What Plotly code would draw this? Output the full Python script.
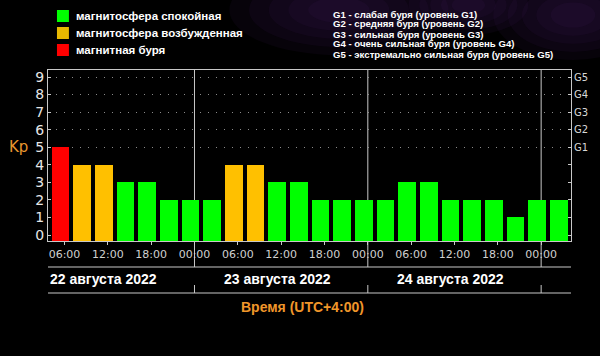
import plotly.graph_objects as go
import pandas as pd

# ---------------- data ----------------
KP = [5, 4, 4, 3, 3, 2, 2, 2,
      4, 4, 3, 3, 2, 2, 2, 2,
      3, 3, 2, 2, 2, 1, 2, 2]
START = "2022-08-22 06:00"
STEP = "3h"
DATES = ["2022-08-22", "2022-08-23", "2022-08-24"]
DAY_LABELS = ["22 августа 2022", "23 августа 2022", "24 августа 2022"]
LEGEND_LABELS = ["магнитосфера спокойная", "магнитосфера возбужденная", "магнитная буря"]
LEGEND_COLORS = ["#00ff00", "#e8b800", "#ff0000"]
BAR_COLORS = {"quiet": "#00ff00", "active": "#ffc000", "storm": "#ff0000"}
KP_TICKS = list(range(10))
G_LEVELS = [5, 6, 7, 8, 9]
G_LABELS = ["G1", "G2", "G3", "G4", "G5"]
G_TEXT = ["G1 - слабая буря (уровень G1)",
          "G2 - средняя буря (уровень G2)",
          "G3 - сильная буря (уровень G3)",
          "G4 - очень сильная буря (уровень G4)",
          "G5 - экстремально сильная буря (уровень G5)"]
X_TITLE = "Время (UTC+4:00)"
Y_TITLE = "Kp"

# ---------------- geometry ----------------
W, H = 600, 356
PL, PR, PT, PB = 48, 573, 70, 241
Y0, Y1 = -0.34, 9.4
X_RANGE = ["2022-08-22 03:43", "2022-08-25 04:08"]
HOUR = 3600000
BAR_W = 2.48 * HOUR
BAR_OFF = -(BAR_W / 2 + 0.55 * HOUR)

def px_x(px):
    return (px - PL) / (PR - PL)

def px_y(py):
    return (PB - py) / (PB - PT)

times = pd.date_range(START, periods=len(KP), freq=STEP)

def level_color(v):
    if v >= 5:
        return BAR_COLORS["storm"]
    if v == 4:
        return BAR_COLORS["active"]
    return BAR_COLORS["quiet"]

colors = [level_color(v) for v in KP]

fig = go.Figure()
fig.add_trace(go.Bar(
    x=times, y=[v - Y0 for v in KP], base=Y0,
    width=BAR_W, offset=BAR_OFF,
    marker=dict(color=colors, line=dict(width=0)),
    showlegend=False, hoverinfo="skip"))
fig.add_trace(go.Scatter(x=[times[0]], y=[None], yaxis="y2",
                         showlegend=False, hoverinfo="skip"))

GRID = "#c8c8c8"
shapes = []

# faint purple haze at the top (background decoration)
for (cx, cy, rx, ry) in [(340, 10, 110, 45), (575, 15, 80, 45), (470, 5, 60, 30)]:
    for k in range(5):
        f = 1 - k * 0.18
        shapes.append(dict(type="circle", xref="paper", yref="paper", layer="below",
                           x0=px_x(cx - rx * f), x1=px_x(cx + rx * f),
                           y0=px_y(cy + ry * f), y1=px_y(cy - ry * f),
                           fillcolor="#5a2480", opacity=0.08, line=dict(width=0)))

midnights = [pd.Timestamp(d) + pd.Timedelta(days=1) for d in DATES]
for m in midnights:
    shapes.append(dict(type="line", xref="x", yref="paper", x0=m, x1=m,
                       y0=px_y(267), y1=1, layer="below",
                       line=dict(color=GRID, width=1)))
    shapes.append(dict(type="line", xref="x", yref="paper", x0=m, x1=m,
                       y0=px_y(293), y1=px_y(285),
                       line=dict(color=GRID, width=1)))
for yy in (267, 293):
    shapes.append(dict(type="line", xref="paper", yref="paper", x0=0, x1=1,
                       y0=px_y(yy), y1=px_y(yy), line=dict(color=GRID, width=1)))

annotations = []
for d, lab in zip(DATES, DAY_LABELS):
    annotations.append(dict(x=pd.Timestamp(d) + pd.Timedelta(hours=12), xref="x",
                            y=px_y(279), yref="paper", text="<b>%s</b>" % lab,
                            showarrow=False, xshift=-4, xanchor="center", yanchor="middle",
                            font=dict(family="Liberation Sans", size=14, color="#ffffff")))
annotations.append(dict(x=px_x(303), y=px_y(307), xref="paper", yref="paper",
                        text="<b>%s</b>" % X_TITLE, showarrow=False,
                        xanchor="center", yanchor="middle",
                        font=dict(family="Liberation Sans", size=14, color="#f0962a")))
annotations.append(dict(x=px_x(18), y=5, xref="paper", yref="y",
                        text=Y_TITLE, showarrow=False, xanchor="center", yanchor="middle",
                        font=dict(family="DejaVu Sans", size=15, color="#e8962e")))

# legend (left)
for i, (lab, col) in enumerate(zip(LEGEND_LABELS, LEGEND_COLORS)):
    cy = 16 + i * 17
    shapes.append(dict(type="rect", xref="paper", yref="paper",
                       x0=px_x(57), x1=px_x(69), y0=px_y(cy - 6), y1=px_y(cy + 6),
                       fillcolor=col, line=dict(width=0)))
    annotations.append(dict(x=px_x(74), y=px_y(cy), xref="paper", yref="paper",
                            xanchor="left", yanchor="middle", text="<b>%s</b>" % lab,
                            showarrow=False,
                            font=dict(family="Liberation Sans", size=11.5, color="#ffffff")))
# G legend (right)
for i, lab in enumerate(G_TEXT):
    cy = 14 + i * 10
    annotations.append(dict(x=px_x(332), y=px_y(cy), xref="paper", yref="paper",
                            xanchor="left", yanchor="middle", text="<b>%s</b>" % lab,
                            showarrow=False,
                            font=dict(family="Liberation Sans", size=9.6, color="#ffffff")))

fig.update_layout(
    width=W, height=H,
    margin=dict(l=PL, r=W - PR, t=PT, b=H - PB, pad=0),
    paper_bgcolor="#000000", plot_bgcolor="#000000",
    bargap=0,
    xaxis=dict(type="date", range=X_RANGE, tickformat="%H:%M",
               tick0="2022-08-22 00:00", dtick=6 * HOUR,
               showgrid=False, zeroline=False,
               showline=True, linecolor=GRID, linewidth=1, mirror=True,
               ticks="outside", ticklen=3, tickcolor=GRID,
               tickfont=dict(family="DejaVu Sans", size=11, color="#d0d0d0"),
               fixedrange=True),
    yaxis=dict(range=[Y0, Y1], tickvals=KP_TICKS, ticktext=[str(t) for t in KP_TICKS],
               showgrid=False, zeroline=False,
               showline=True, linecolor=GRID, linewidth=1,
               ticks="inside", ticklen=3, tickcolor=GRID,
               tickfont=dict(family="DejaVu Sans", size=14, color="#e6e6e6"),
               fixedrange=True),
    yaxis2=dict(range=[Y0, Y1], overlaying="y", side="right",
                tickvals=G_LEVELS, ticktext=G_LABELS,
                showgrid=True, gridcolor="#8a8a8a", gridwidth=1, griddash="1px,7px",
                zeroline=False, showline=True, linecolor=GRID, linewidth=1,
                ticks="inside", ticklen=3, tickcolor=GRID,
                minor=dict(ticks="inside", ticklen=3, tickcolor=GRID, dtick=1, tick0=0, showgrid=False),
                tickfont=dict(family="DejaVu Sans", size=10, color="#d8d8d8"),
                fixedrange=True),
    shapes=shapes, annotations=annotations,
)

fig.write_html("out.html", config={"displayModeBar": False},
               post_script="document.body.style.margin='0';document.body.style.background='#000';")
